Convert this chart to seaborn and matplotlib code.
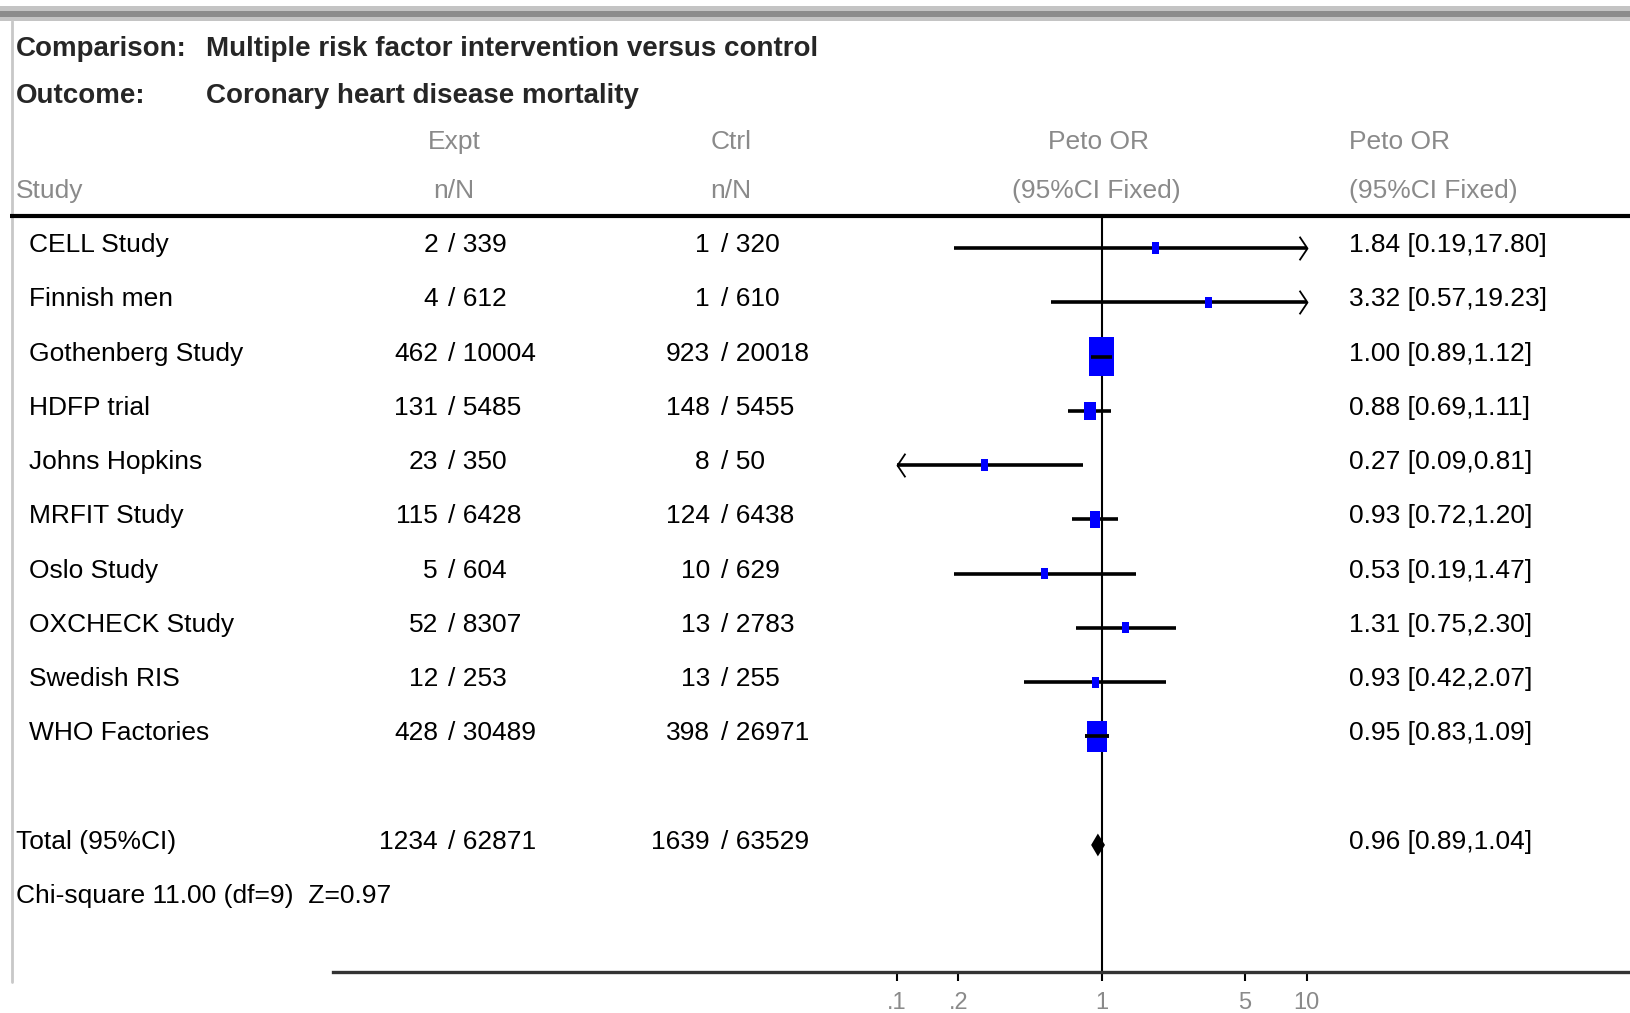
import numpy as np
import matplotlib
matplotlib.use("Agg")
import matplotlib.pyplot as plt
from matplotlib.path import Path
from matplotlib.markers import MarkerStyle
from matplotlib.ticker import NullLocator
from matplotlib.patches import Rectangle
import seaborn as sns

# --- data ---
studies = ["CELL Study", "Finnish men", "Gothenberg Study", "HDFP trial", "Johns Hopkins",
           "MRFIT Study", "Oslo Study", "OXCHECK Study", "Swedish RIS", "WHO Factories"]
expt_n = [2, 4, 462, 131, 23, 115, 5, 52, 12, 428]
expt_N = [339, 612, 10004, 5485, 350, 6428, 604, 8307, 253, 30489]
ctrl_n = [1, 1, 923, 148, 8, 124, 10, 13, 13, 398]
ctrl_N = [320, 610, 20018, 5455, 50, 6438, 629, 2783, 255, 26971]
peto_or = [1.84, 3.32, 1.00, 0.88, 0.27, 0.93, 0.53, 1.31, 0.93, 0.95]
ci_low = [0.19, 0.57, 0.89, 0.69, 0.09, 0.72, 0.19, 0.75, 0.42, 0.83]
ci_high = [17.80, 19.23, 1.12, 1.11, 0.81, 1.20, 1.47, 2.30, 2.07, 1.09]
# approximate weights (%) judged from the box sizes
weights = [0.1, 0.2, 45.9, 10.4, 0.5, 8.9, 0.6, 1.8, 0.9, 30.7]

total_label = "Total (95%CI)"
total_expt = [1234, 62871]
total_ctrl = [1639, 63529]
total_or = [0.96, 0.89, 1.04]
het_text = "Chi-square 11.00 (df=9)  Z=0.97"

tick_vals = [0.1, 0.2, 1, 5, 10]
tick_labels = [".1", ".2", "1", "5", "10"]
plot_range = [0.1, 10]

# --- layout (pixels) ---
W, H = 1630, 1013
row0, row_step = 245, 54.27
grey = "#8a8a8a"

sns.set_theme(style="white")
plt.rcParams["font.family"] = ["Liberation Sans", "DejaVu Sans"]

fig = plt.figure(figsize=(W / 100, H / 100), dpi=100)

# overlay axes in pixel coordinates for the table text
tx = fig.add_axes([0, 0, 1, 1])
tx.set_xlim(0, W)
tx.set_ylim(H, 0)
tx.axis("off")

# window chrome: grey bar on top, grey left border
tx.add_patch(Rectangle((0, 6), W, 15, color="#c4c4c4", lw=0))
tx.add_patch(Rectangle((0, 11), W, 6, color="#8c8c8c", lw=0))
tx.plot([12, 12], [21, 982], color="#c8c8c8", lw=2)

# header
bold = dict(fontsize=20, fontweight="bold", va="center")
tx.text(16, 49, "Comparison:", **bold)
tx.text(206, 49, "Multiple risk factor intervention versus control", **bold)
tx.text(16, 96, "Outcome:", **bold)
tx.text(206, 96, "Coronary heart disease mortality", **bold)

hdr = dict(fontsize=19, color=grey, va="center")
tx.text(454, 142, "Expt", ha="center", **hdr)
tx.text(454, 191, "n/N", ha="center", **hdr)
tx.text(731, 142, "Ctrl", ha="center", **hdr)
tx.text(731, 191, "n/N", ha="center", **hdr)
tx.text(1098, 142, "Peto OR", ha="center", **hdr)
tx.text(1096, 191, "(95%CI Fixed)", ha="center", **hdr)
tx.text(1349, 142, "Peto OR", ha="left", **hdr)
tx.text(1349, 191, "(95%CI Fixed)", ha="left", **hdr)
tx.text(16, 191, "Study", ha="left", **hdr)
tx.plot([10, W], [216, 216], color="black", lw=3, solid_capstyle="butt")

body = dict(fontsize=19, color="black", va="center")
for i, name in enumerate(studies):
    y = row0 + row_step * i
    tx.text(29, y, name, ha="left", **body)
    tx.text(438, y, f"{expt_n[i]}", ha="right", **body)
    tx.text(448, y, f"/ {expt_N[i]}", ha="left", **body)
    tx.text(710, y, f"{ctrl_n[i]}", ha="right", **body)
    tx.text(721, y, f"/ {ctrl_N[i]}", ha="left", **body)
    tx.text(1349, y, f"{peto_or[i]:.2f} [{ci_low[i]:.2f},{ci_high[i]:.2f}]", ha="left", **body)

y_tot = row0 + row_step * 11
tx.text(16, y_tot, total_label, ha="left", **body)
tx.text(438, y_tot, f"{total_expt[0]}", ha="right", **body)
tx.text(448, y_tot, f"/ {total_expt[1]}", ha="left", **body)
tx.text(710, y_tot, f"{total_ctrl[0]}", ha="right", **body)
tx.text(721, y_tot, f"/ {total_ctrl[1]}", ha="left", **body)
tx.text(1349, y_tot, f"{total_or[0]:.2f} [{total_or[1]:.2f},{total_or[2]:.2f}]", ha="left", **body)
tx.text(16, row0 + row_step * 12, het_text, ha="left", **body)

# --- forest panel ---
left_px, right_px, top_px, bot_px = 333, W, 216, 972
ax = fig.add_axes([left_px / W, 1 - bot_px / H, (right_px - left_px) / W, (bot_px - top_px) / H])
ax.patch.set_alpha(0)
one_px, decade_px = 1101.5, 205
ax.set_xscale("log")
ax.set_xlim(10 ** ((left_px - one_px) / decade_px), 10 ** ((right_px - one_px) / decade_px))
line_off = 3
ax.set_ylim((bot_px - row0 - line_off) / row_step, (top_px - row0 - line_off) / row_step)

rows = np.arange(len(studies))
lo = np.clip(ci_low, *plot_range)
hi = np.clip(ci_high, *plot_range)

ax.axvline(1, color="black", lw=1.5, zorder=1)
ax.hlines(rows, lo, hi, color="black", lw=2.6, zorder=2)

# weighted boxes (taller than wide, like the original)
rect = MarkerStyle(Path([(-0.625, -1), (0.625, -1), (0.625, 1), (-0.625, 1), (-0.625, -1)]))
box_w = np.maximum(7, 3.55 * np.sqrt(weights))
box_h_pt = box_w * 1.6 * 0.72
sns.scatterplot(x=peto_or, y=rows, s=box_h_pt ** 2, marker=rect, color="#0000ff",
                linewidth=0, ax=ax, zorder=3, legend=False)
big = np.array(weights) > 20
ax.hlines(rows[big], lo[big], hi[big], color="black", lw=2.6, zorder=4)

# arrows for intervals running off the scale
chev_r = MarkerStyle(Path([(-0.67, 1), (0, 0), (-0.67, -1)], [Path.MOVETO, Path.LINETO, Path.LINETO]))
chev_l = MarkerStyle(Path([(0.67, 1), (0, 0), (0.67, -1)], [Path.MOVETO, Path.LINETO, Path.LINETO]))
for i in rows:
    if ci_high[i] > plot_range[1]:
        ax.plot(plot_range[1], i, marker=chev_r, ms=17, mfc="none", mec="black", mew=1.3, zorder=3)
    if ci_low[i] < plot_range[0]:
        ax.plot(plot_range[0], i, marker=chev_l, ms=17, mfc="none", mec="black", mew=1.3, zorder=3)

# pooled diamond
dh = 0.21
ax.fill([total_or[1], total_or[0], total_or[2], total_or[0]], [11, 11 - dh, 11, 11 + dh],
        color="black", lw=0, zorder=3)

for s in ["top", "left", "right"]:
    ax.spines[s].set_visible(False)
ax.spines["bottom"].set_color("#333333")
ax.spines["bottom"].set_linewidth(2.4)
ax.set_yticks([])
ax.set_xticks(tick_vals, labels=tick_labels)
ax.xaxis.set_minor_locator(NullLocator())
ax.tick_params(axis="x", direction="out", length=6.5, width=1.5, color="black",
               labelcolor=grey, labelsize=17, pad=8, bottom=True)
ax.grid(False)

fig.savefig("out.png", dpi=100)
